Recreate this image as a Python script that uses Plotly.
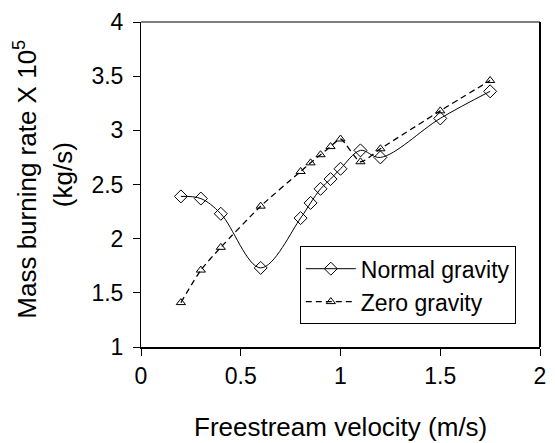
import plotly.graph_objects as go

velocity = [0.2, 0.3, 0.4, 0.6, 0.8, 0.85, 0.9, 0.95, 1.0, 1.1, 1.2, 1.5, 1.75]
normal_gravity = [2.39, 2.37, 2.23, 1.73, 2.19, 2.33, 2.46, 2.55, 2.645, 2.815, 2.75, 3.11, 3.36]
zero_gravity = [1.41, 1.71, 1.92, 2.30, 2.62, 2.70, 2.775, 2.85, 2.92, 2.71, 2.83, 3.18, 3.46]

x_ticks = [0, 0.5, 1, 1.5, 2]
y_ticks = [1, 1.5, 2, 2.5, 3, 3.5, 4]

FONT = "Liberation Sans, Arial, sans-serif"

fig = go.Figure()
fig.add_trace(go.Scatter(
    x=velocity, y=normal_gravity, name="Normal gravity",
    mode="lines+markers",
    line=dict(color="black", width=1, shape="spline", smoothing=1),
    marker=dict(symbol="diamond-open", size=10, color="black", line=dict(width=1, color="black")),
))
fig.add_trace(go.Scatter(
    x=velocity, y=zero_gravity, name="Zero gravity",
    mode="lines+markers",
    line=dict(color="black", width=1.3, dash="6px,4px", shape="spline", smoothing=0.6),
    marker=dict(symbol="triangle-up-open", size=8, color="black", line=dict(width=1, color="black")),
))

fig.update_layout(
    width=555, height=443,
    margin=dict(l=141, r=9, t=17, b=96),
    paper_bgcolor="white", plot_bgcolor="white",
    font=dict(family=FONT, color="black", size=20),
    showlegend=True,
    legend=dict(
        x=0.398, y=0.31, xanchor="left", yanchor="top",
        bordercolor="black", borderwidth=1, bgcolor="white",
        font=dict(size=23, family=FONT), tracegroupgap=0,
        itemwidth=50,
    ),
    xaxis=dict(
        range=[0, 2], tickvals=x_ticks, ticktext=[f"{v:g}" for v in x_ticks],
        showgrid=False, zeroline=False, showline=True, linecolor="black", linewidth=2,
        ticks="outside", ticklen=7, tickcolor="black", tickwidth=1,
        tickfont=dict(size=23), ticklabelstandoff=0,
    ),
    yaxis=dict(
        range=[1, 4], tickvals=y_ticks, ticktext=[f"{v:g}" for v in y_ticks],
        showgrid=False, zeroline=False, showline=True, linecolor="black", linewidth=1,
        ticks="outside", ticklen=7, tickcolor="black", tickwidth=1,
        tickfont=dict(size=23), ticklabelstandoff=5,
    ),
    annotations=[
        dict(text="Freestream velocity (m/s)", xref="paper", yref="paper",
             x=0.5, y=-0.245, xanchor="center", yanchor="middle", showarrow=False,
             font=dict(size=26, family=FONT)),
        dict(text="Mass burning rate X 10<sup>5</sup>", xref="paper", yref="paper",
             x=-0.288, y=0.515, xanchor="center", yanchor="middle", showarrow=False,
             textangle=-90, font=dict(size=26, family=FONT)),
        dict(text="(kg/s)", xref="paper", yref="paper",
             x=-0.197, y=0.53, xanchor="center", yanchor="middle", showarrow=False,
             textangle=-90, font=dict(size=26, family=FONT)),
    ],
    shapes=[
        dict(type="line", xref="paper", yref="paper", x0=0, x1=1, y0=1, y1=1,
             line=dict(color="#808080", width=2)),
        dict(type="line", xref="paper", yref="paper", x0=1, x1=1, y0=0, y1=1,
             line=dict(color="black", width=2)),
    ],
)

fig.write_html("out.html")
